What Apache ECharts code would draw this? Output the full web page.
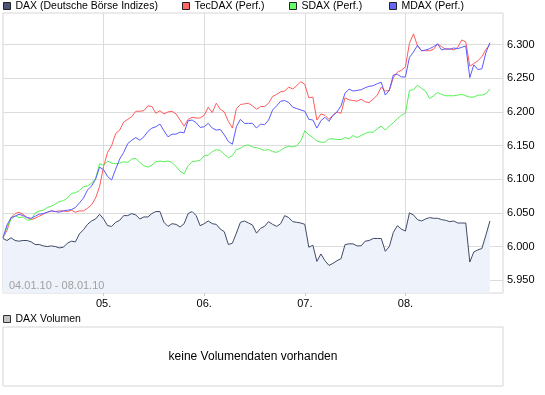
<!DOCTYPE html>
<html>
<head>
<meta charset="utf-8">
<script src="https://cdn.jsdelivr.net/npm/echarts@6/dist/echarts.min.js"></script>
<style>
html,body{margin:0;padding:0;background:#fff;}
#chart{width:545px;height:395px;}
</style>
</head>
<body>
<div id="chart"></div>
<script>
// Sample index: 25 samples per trading day, day boundaries at 25, 50, 75, 100
const dayTicks = [25, 50, 75, 100];
const dayLabels = ['05.', '06.', '07.', '08.'];
const yTicks = [5950, 6000, 6050, 6100, 6150, 6200, 6250, 6300];
const dateRange = '04.01.10 - 08.01.10';
const names = ['DAX (Deutsche Börse Indizes)', 'TecDAX (Perf.)', 'SDAX (Perf.)', 'MDAX (Perf.)'];
const volumeName = 'DAX Volumen';
const noVolumeText = 'keine Volumendaten vorhanden';

const dax = [6012,6009,6013,6009,6008,6009,6009,6007,6003,6003,6001,6000,6001,6000,5998,5999,6005,6008,6007,6019,6025,6033,6038,6041,6048,
6041,6031,6030,6036,6039,6046,6046,6049,6047,6041,6044,6044,6049,6052,6052,6036,6030,6034,6033,6029,6034,6049,6052,6046,6031,
6034,6038,6034,6033,6026,6022,6003,6005,6020,6036,6038,6035,6032,6020,6027,6030,6037,6033,6030,6034,6046,6043,6037,6036,6035,
6033,5999,6002,5978,5989,5979,5972,5975,5979,5982,6003,6004,6004,6001,6001,6008,6009,6012,6012,6012,5993,6000,6021,6031,6026,
6023,6050,6047,6040,6038,6041,6043,6042,6042,6040,6039,6037,6038,6035,6035,6035,5977,5992,5995,5997,6017,6038];

const tecdax = [6013,6024,6043,6049,6051,6048,6043,6040,6042,6045,6048,6051,6053,6052,6053,6053,6052,6054,6051,6053,6053,6057,6062,6072,6089,
6119,6140,6150,6168,6173,6185,6189,6193,6201,6201,6202,6209,6208,6198,6202,6197,6200,6201,6197,6188,6179,6189,6192,6191,6191,
6195,6207,6199,6213,6204,6200,6186,6176,6205,6211,6212,6213,6209,6204,6208,6208,6213,6223,6226,6230,6231,6237,6234,6239,6245,
6241,6221,6222,6188,6197,6195,6189,6195,6200,6198,6221,6218,6217,6216,6219,6215,6214,6219,6225,6237,6231,6232,6251,6259,6262,
6267,6302,6316,6298,6291,6291,6291,6293,6301,6297,6293,6294,6292,6296,6307,6304,6268,6272,6276,6282,6293,6300];

const sdax = [6013,6029,6040,6046,6043,6044,6039,6040,6050,6053,6054,6058,6060,6063,6067,6068,6072,6079,6080,6083,6089,6090,6094,6101,6123,
6121,6127,6124,6123,6124,6126,6125,6130,6131,6125,6120,6118,6121,6126,6127,6126,6127,6125,6119,6112,6108,6120,6126,6127,6128,
6135,6136,6141,6144,6143,6137,6132,6135,6144,6146,6150,6151,6148,6147,6145,6143,6144,6141,6140,6143,6147,6149,6148,6150,6157,
6172,6166,6162,6157,6155,6155,6160,6160,6159,6159,6162,6160,6165,6162,6165,6168,6170,6170,6175,6179,6173,6179,6184,6190,6195,
6198,6232,6233,6240,6235,6231,6220,6224,6229,6226,6224,6224,6224,6225,6226,6224,6222,6222,6225,6225,6227,6234];

const mdax = [6013,6032,6043,6045,6048,6046,6043,6042,6045,6048,6049,6051,6053,6052,6051,6053,6054,6055,6058,6065,6072,6084,6090,6100,6118,
6114,6104,6099,6115,6130,6140,6153,6158,6162,6158,6163,6171,6176,6178,6182,6172,6163,6167,6167,6170,6169,6187,6188,6184,6177,
6178,6183,6176,6173,6174,6166,6156,6152,6178,6189,6183,6183,6183,6176,6182,6181,6188,6203,6209,6216,6217,6214,6207,6205,6203,
6201,6189,6188,6176,6187,6192,6186,6195,6200,6209,6228,6234,6231,6232,6233,6236,6238,6239,6242,6244,6225,6232,6255,6256,6252,
6252,6281,6289,6299,6291,6292,6294,6297,6301,6292,6294,6293,6295,6294,6296,6298,6251,6270,6263,6264,6288,6303];

const lineColors = ['#3f4a66', '#ff5a5a', '#55f055', '#5a5aff'];
const legendColors = ['#4a5675', '#ff6666', '#66ff66', '#6666ff'];
const legendLefts = [3, 182, 289, 389];
const FONT = '"Liberation Sans", Arial, sans-serif';

function pairs(arr) { return arr.map((v, i) => [i, v]); }
function de(v) { return (v / 1000).toFixed(3); }

const chart = echarts.init(document.getElementById('chart'), null, {renderer: 'canvas'});

const legends = names.map((n, k) => ({
  left: legendLefts[k], top: 0, padding: 0,
  icon: 'rect', itemWidth: 7, itemHeight: 7, selectedMode: false,
  itemStyle: {borderColor: '#222', borderWidth: 1},
  textStyle: {fontFamily: FONT, fontSize: 10.5, color: '#000', lineHeight: 12},
  data: [{name: n, itemStyle: {color: legendColors[k], borderColor: '#222', borderWidth: 1}}]
}));
legends.push({
  left: 3, top: 313, padding: 0,
  icon: 'rect', itemWidth: 7, itemHeight: 7, selectedMode: false,
  textStyle: {fontFamily: FONT, fontSize: 10.5, color: '#000', lineHeight: 12},
  data: [{name: volumeName, itemStyle: {color: '#c4c4c4', borderColor: '#333', borderWidth: 1}}]
});

const series = [dax, tecdax, sdax, mdax].map((arr, k) => ({
  name: names[k], type: 'line', xAxisIndex: 0, yAxisIndex: 0,
  data: pairs(arr), symbol: 'none', showSymbol: false,
  lineStyle: {width: 1, color: lineColors[k]},
  itemStyle: {color: lineColors[k]},
  areaStyle: k === 0 ? {color: '#eef2fb', origin: 'start', opacity: 1} : undefined,
  z: k === 0 ? 2 : 3,
  animation: false
}));
series.push({name: volumeName, type: 'bar', xAxisIndex: 1, yAxisIndex: 1, data: [], itemStyle: {color: '#c4c4c4'}});

chart.setOption({
  animation: false,
  textStyle: {fontFamily: FONT},
  legend: legends,
  grid: [
    {left: 3, top: 13, width: 500, height: 280, show: true, borderColor: '#d6d6d6', borderWidth: 1, containLabel: false},
    {left: 3, top: 327, width: 500, height: 59, show: true, borderColor: '#d6d6d6', borderWidth: 1, containLabel: false}
  ],
  xAxis: [
    {type: 'value', gridIndex: 0, min: 0, max: 124.25, interval: 25,
     axisLine: {show: false},
     axisTick: {show: true, length: 3, lineStyle: {color: '#cccccc'}, customValues: dayTicks},
     axisLabel: {customValues: dayTicks, margin: 5, color: '#000', fontSize: 11, fontFamily: FONT,
       formatter: v => dayLabels[dayTicks.indexOf(v)] || ''},
     splitLine: {show: true, lineStyle: {color: '#dcdcdc', width: 1}}},
    {type: 'value', gridIndex: 1, show: false, min: 0, max: 1}
  ],
  yAxis: [
    {type: 'value', gridIndex: 0, position: 'right', min: 5931, max: 6347, splitNumber: 8, scale: true,
     axisLine: {show: false},
     axisTick: {show: false, customValues: yTicks},
     axisLabel: {customValues: yTicks, margin: 4, color: '#000', fontSize: 11, fontFamily: FONT, formatter: v => de(v),
       showMinLabel: true, showMaxLabel: true},
     splitLine: {show: true, lineStyle: {color: '#dcdcdc', width: 1}}},
    {type: 'value', gridIndex: 1, show: false, min: 0, max: 1, splitLine: {show: false}}
  ],
  graphic: [
    {type: 'text', left: 9, top: 280, z: 100,
     style: {text: dateRange, fill: '#a0a0a0', font: '11px ' + FONT}},
    {type: 'text', x: 253, y: 357, z: 100,
     style: {text: noVolumeText, fill: '#000', font: '12px ' + FONT, align: 'center', verticalAlign: 'middle'}}
  ],
  series: series
});
</script>
</body>
</html>
